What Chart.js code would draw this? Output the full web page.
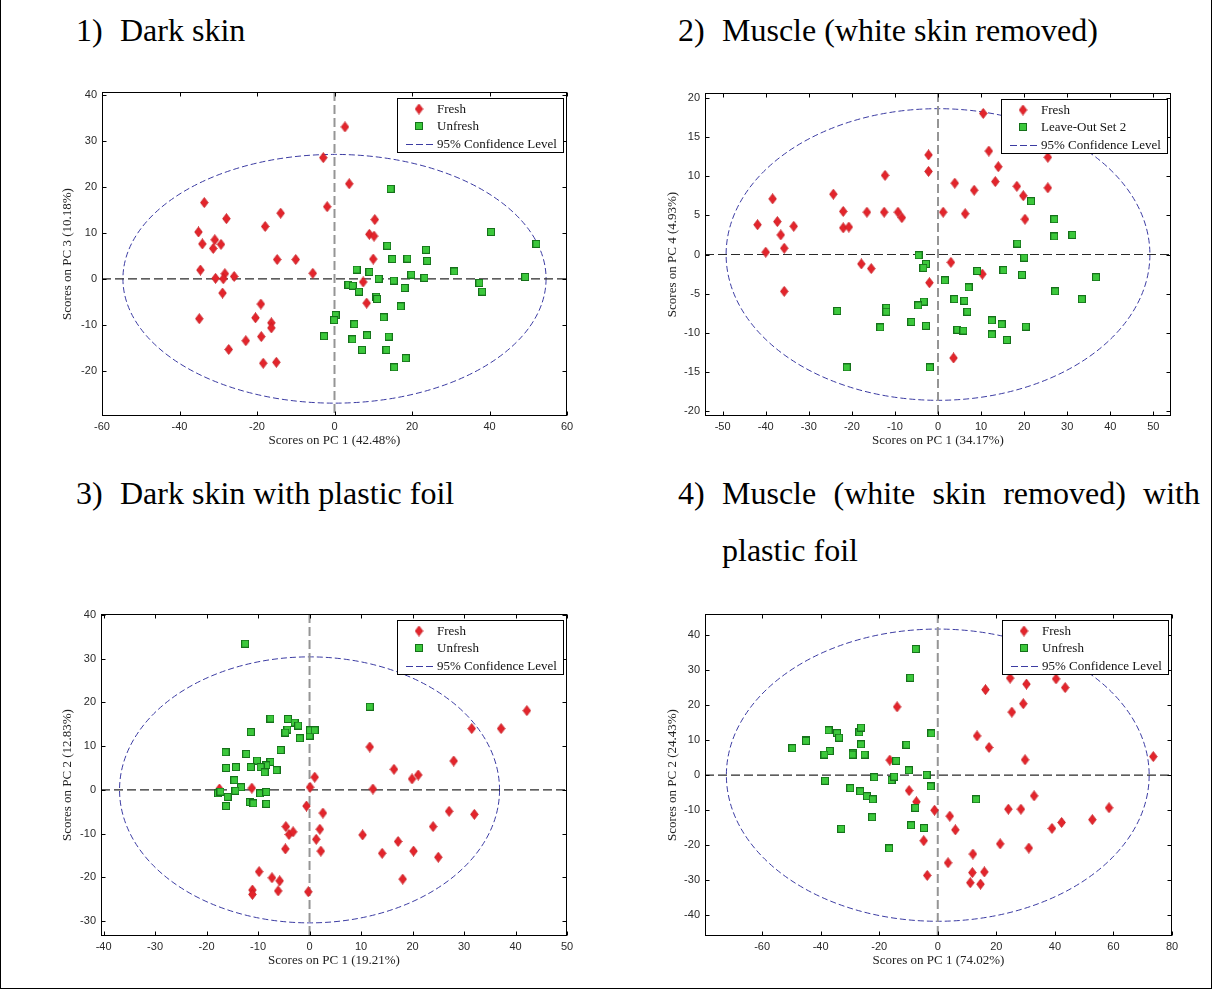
<!DOCTYPE html>
<html>
<head>
<meta charset="utf-8">
<script src="https://cdn.jsdelivr.net/npm/chart.js@4.4.1/dist/chart.umd.min.js"></script>
<style>
  html, body { margin: 0; padding: 0; background: #fff; }
  body { width: 1213px; height: 992px; position: relative; overflow: hidden;
         font-family: 'Liberation Serif', 'Times New Roman', serif; }
  .frame { position: absolute; left: 0; top: -2px; width: 1210px; height: 990px;
           border: 1px solid #000; border-top: none; }
  .h { position: absolute; font-size: 32px; line-height: 32px; white-space: nowrap; color: #000; }
  .just { text-align: justify; text-align-last: justify; white-space: normal; }
  canvas.plot { position: absolute; }
</style>
</head>
<body>
<div class="frame"></div>

<div class="h" style="left:76px; top:14px;">1)</div>
<div class="h" style="left:120px; top:14px;">Dark skin</div>
<div class="h" style="left:678px; top:14px;">2)</div>
<div class="h" style="left:722px; top:14px;">Muscle (white skin removed)</div>

<div class="h" style="left:76px; top:477px;">3)</div>
<div class="h" style="left:120px; top:477px;">Dark skin with plastic foil</div>
<div class="h" style="left:678px; top:477px;">4)</div>
<div class="h just" style="left:722px; top:477px; width:478px;">Muscle (white skin removed) with</div>
<div class="h" style="left:722px; top:534px;">plastic foil</div>

<canvas id="p1" class="plot" width="527" height="376" style="left:60px; top:72px;"></canvas>
<canvas id="p2" class="plot" width="526" height="375" style="left:665px; top:73px;"></canvas>
<canvas id="p3" class="plot" width="527" height="374" style="left:60px; top:594px;"></canvas>
<canvas id="p4" class="plot" width="527" height="374" style="left:665px; top:594px;"></canvas>

<script>
// ---- 1) Dark skin : PC1 vs PC3 scores ----
const darkSkinFresh = [
  [-33.6,16.6],[-35.1,10.2],[-34.1,7.6],[-34.6,1.9],[-34.9,-8.7],[-30.9,8.5],[-31.3,6.6],[-29.3,7.5],
  [-27.9,13.1],[-30.7,0.1],[-28.3,1.1],[-28.7,0.0],[-28.9,-3.1],[-25.9,0.5],[-27.3,-15.4],[-22.9,-13.5],
  [-20.4,-8.5],[-19.0,-5.5],[-18.9,-12.6],[-18.4,-18.4],[-17.9,11.4],[-16.3,-9.6],[-16.3,-10.7],[-15.0,-18.2],
  [-14.8,4.2],[-13.9,14.3],[-10.0,4.2],[-5.6,1.2],[2.7,33.1],[-2.9,26.4],[3.8,20.7],[-1.9,15.7],
  [10.4,12.9],[9.0,9.7],[10.2,9.3],[10.0,4.3],[7.4,-0.7],[8.3,-5.3]
];
const darkSkinUnfresh = [
  [14.5,19.6],[40.4,10.2],[52.1,7.6],[13.6,7.2],[23.6,6.3],[14.9,4.3],[18.8,4.4],[23.9,3.9],
  [5.7,2.0],[9.0,1.5],[11.4,0.0],[15.3,-0.4],[19.8,0.9],[23.2,0.2],[30.9,1.6],[37.4,-0.9],
  [38.1,-2.8],[49.2,0.4],[3.6,-1.3],[4.7,-1.5],[6.3,-2.8],[18.1,-2.0],[10.8,-3.9],[11.0,-4.4],
  [17.1,-6.0],[0.3,-7.9],[-0.1,-9.0],[12.7,-8.4],[5.1,-9.9],[-2.7,-12.5],[4.6,-13.2],[8.4,-12.3],
  [14.0,-12.6],[7.1,-15.5],[13.4,-15.5],[18.4,-17.3],[15.4,-19.3]
];
const darkSkinEllipse = [54.6, 27.1];
const darkSkinXTicks = [-60, -40, -20, 0, 20, 40, 60];
const darkSkinYTicks = [-20, -10, 0, 10, 20, 30, 40];

// ---- 2) Muscle : PC1 vs PC4 scores ----
const muscleFresh = [
  [-41.9,3.8],[-38.4,7.1],[-37.3,4.2],[-40.0,0.3],[-36.5,2.5],[-35.7,0.8],[-35.7,-4.7],[-33.5,3.6],
  [-24.3,7.7],[-22.0,5.5],[-22.0,3.4],[-20.7,3.5],[-17.8,-1.2],[-15.5,-1.8],[-16.5,5.4],[-12.3,10.1],
  [-12.5,5.4],[-9.3,5.4],[-8.4,4.7],[10.5,18.0],[-2.2,12.7],[-2.2,10.6],[11.8,13.2],[14.0,11.2],
  [25.5,12.4],[3.9,9.1],[13.3,9.3],[8.4,8.2],[18.3,8.7],[19.8,7.5],[25.5,8.5],[1.2,5.4],
  [6.3,5.2],[20.2,4.5],[3.0,-1.0],[10.3,-2.5],[-2.0,-3.6],[3.6,-13.2]
];
const muscleLeaveOut = [
  [-4.5,-0.1],[-2.8,-1.2],[-3.4,-1.7],[1.6,-3.3],[7.1,-4.2],[3.8,-5.7],[6.1,-5.9],[6.8,-7.3],
  [-3.3,-6.0],[-4.6,-6.5],[-12.0,-6.8],[-12.0,-7.3],[-13.4,-9.3],[-6.2,-8.6],[-2.8,-9.1],[4.5,-9.6],
  [5.9,-9.7],[12.5,-8.4],[14.8,-8.9],[12.5,-10.2],[16.0,-10.9],[-1.9,-14.4],[9.1,-2.1],[15.2,-2.0],
  [19.5,-2.6],[18.4,1.4],[20.0,-0.4],[20.4,-9.2],[21.6,6.8],[27.0,4.5],[27.0,2.3],[31.2,2.5],
  [36.7,-2.9],[27.2,-4.7],[33.4,-5.7],[-23.4,-7.2],[-21.2,-14.4]
];
const muscleEllipse = [49.2, 18.6];
const muscleXTicks = [-50, -40, -30, -20, -10, 0, 10, 20, 30, 40, 50];
const muscleYTicks = [-20, -15, -10, -5, 0, 5, 10, 15, 20];

// ---- 3) Dark skin with plastic foil : PC1 vs PC2 scores ----
const foilSkinFresh = [
  [1.0,2.9],[0.1,0.6],[-11.2,0.4],[-17.5,0.2],[-0.6,-3.7],[2.6,-5.3],[-4.6,-8.4],[-4.0,-10.2],
  [-3.2,-9.6],[2.0,-9.0],[1.3,-11.3],[2.2,-14.0],[-4.7,-13.5],[-9.8,-18.7],[-7.3,-20.1],[-5.8,-20.8],
  [-6.1,-23.1],[-11.1,-22.9],[-11.1,-23.9],[-0.25,-23.3],[11.7,9.8],[16.4,4.7],[19.9,2.5],[21.1,3.4],
  [12.3,0.2],[28.0,6.6],[31.5,14.0],[37.2,14.0],[42.2,18.1],[27.1,-4.9],[32.0,-5.6],[24.0,-8.4],
  [10.3,-10.3],[17.2,-11.8],[14.1,-14.5],[20.2,-14.0],[25.0,-15.4],[18.1,-20.4]
];
const foilSkinUnfresh = [
  [-12.5,33.4],[-7.6,16.3],[-4.2,16.2],[-2.9,15.4],[-2.2,14.7],[-4.3,13.8],[-4.7,13.1],[-1.9,11.8],
  [-11.4,13.2],[0.0,12.4],[0.1,13.6],[1.0,13.6],[-5.6,9.1],[-16.3,8.6],[-12.3,8.2],[-10.2,6.7],
  [-7.6,6.4],[-8.4,5.6],[-9.5,5.2],[-6.4,4.5],[-8.7,4.0],[-16.2,5.0],[-14.3,5.2],[-11.4,5.2],
  [-14.6,2.2],[-13.3,0.6],[-14.4,-0.2],[-17.8,-0.8],[-17.3,-0.4],[-15.9,-1.6],[-16.2,-3.7],[-11.6,-2.8],
  [-10.9,-3.1],[-9.6,-0.8],[-8.4,-0.5],[-8.4,-3.2],[11.7,19.0]
];
const foilSkinEllipse = [36.9, 30.4];
const foilSkinXTicks = [-40, -30, -20, -10, 0, 10, 20, 30, 40, 50];
const foilSkinYTicks = [-30, -20, -10, 0, 10, 20, 30, 40];

// ---- 4) Muscle with plastic foil : PC1 vs PC2 scores ----
const foilMuscleFresh = [
  [-13.9,19.5],[-16.4,4.3],[-9.8,-4.4],[-7.3,-7.6],[-1.1,-10.0],[4.1,-11.7],[6.0,-15.6],[-4.8,-18.7],
  [-3.6,-28.6],[3.5,-25.0],[12.0,-22.5],[11.8,-27.8],[11.1,-30.7],[13.4,11.2],[24.7,27.7],[30.3,26.0],
  [40.4,27.5],[43.5,25.0],[16.3,24.4],[29.2,20.4],[25.3,18.0],[17.5,7.9],[29.8,4.4],[73.6,5.3],
  [32.9,-5.9],[24.1,-9.7],[28.4,-9.7],[58.5,-9.3],[52.8,-12.7],[42.3,-13.5],[39.0,-15.2],[21.3,-19.6],
  [31.1,-20.8],[15.9,-27.6],[14.6,-31.1]
];
const foilMuscleUnfresh = [
  [-49.7,7.7],[-45.1,10.0],[-45.0,9.8],[-37.3,12.8],[-34.4,12.0],[-33.7,10.7],[-36.9,6.9],[-38.7,5.9],
  [-38.5,-1.6],[-26.8,12.2],[-26.2,13.6],[-26.2,8.8],[-28.9,6.2],[-29.1,5.9],[-25.0,5.9],[-21.7,-0.6],
  [-29.9,-3.7],[-26.5,-4.6],[-24.2,-6.0],[-22.2,-6.9],[-22.4,-12.0],[-33.0,-15.3],[-16.6,-20.9],[-7.5,36.0],
  [-9.4,27.8],[-10.7,8.7],[-14.2,4.1],[-9.9,1.4],[-15.8,-1.4],[-14.9,-0.4],[-7.7,-9.3],[-9.1,-14.3],
  [-2.2,11.9],[-3.8,0.1],[-2.4,-3.2],[-4.7,-15.1],[13.1,-6.9]
];
const foilMuscleEllipse = [72.2, 41.7];
const foilMuscleXTicks = [-60, -40, -20, 0, 20, 40, 60, 80];
const foilMuscleYTicks = [-40, -30, -20, -10, 0, 10, 20, 30, 40];

const SERIF = "'Liberation Serif', 'Times New Roman', serif";
const SANS = "'Liberation Sans', Arial, sans-serif";
const RED = '#e3242b', RED_EDGE = '#c41b21';
const GREEN = '#3cc83c', GREEN_EDGE = '#15701a';
const ELLIPSE_BLUE = '#3b3ba2';

// marker glyphs (MATLAB-style diamond and square)
function diamondGlyph() {
  const c = document.createElement('canvas');
  c.width = 9; c.height = 11;
  const g = c.getContext('2d');
  g.beginPath();
  g.moveTo(4.5, 0.5); g.lineTo(8.3, 5.5); g.lineTo(4.5, 10.5); g.lineTo(0.7, 5.5); g.closePath();
  g.fillStyle = RED; g.fill();
  g.lineWidth = 0.8; g.strokeStyle = RED_EDGE; g.stroke();
  return c;
}
function squareGlyph() {
  const c = document.createElement('canvas');
  c.width = 8; c.height = 8;
  const g = c.getContext('2d');
  g.fillStyle = GREEN; g.fillRect(0.5, 0.5, 7, 7);
  g.lineWidth = 1; g.strokeStyle = GREEN_EDGE; g.strokeRect(0.5, 0.5, 7, 7);
  return c;
}
const DIAMOND = diamondGlyph();
const SQUARE = squareGlyph();

// zero lines, confidence ellipse, boxed axes with inward ticks, in-plot legend
const pcaDecor = {
  id: 'pcaDecor',
  beforeDatasetsDraw(chart, args, o) {
    const { ctx, chartArea: a, scales: { x, y } } = chart;
    const cx = x.getPixelForValue(0), cy = y.getPixelForValue(0);
    const rx = x.getPixelForValue(o.ellipse[0]) - cx;
    const ry = cy - y.getPixelForValue(o.ellipse[1]);
    ctx.save();
    ctx.beginPath(); ctx.rect(a.left, a.top, a.right - a.left, a.bottom - a.top); ctx.clip();

    ctx.setLineDash([6, 3]); ctx.lineWidth = 1; ctx.strokeStyle = ELLIPSE_BLUE;
    ctx.beginPath(); ctx.ellipse(cx, cy, rx, ry, 0, 0, Math.PI * 2); ctx.stroke();

    ctx.setLineDash([9, 4]); ctx.lineWidth = 2; ctx.strokeStyle = '#959595';
    ctx.beginPath(); ctx.moveTo(cx, a.top); ctx.lineTo(cx, a.bottom); ctx.stroke();

    ctx.setLineDash([9, 4]); ctx.lineWidth = 1.2; ctx.strokeStyle = '#2a2a2a';
    ctx.beginPath(); ctx.moveTo(a.left, cy); ctx.lineTo(a.right, cy); ctx.stroke();
    ctx.restore();
  },
  afterDatasetsDraw(chart, args, o) {
    const { ctx, chartArea: a, scales: { x, y } } = chart;
    ctx.save();
    ctx.setLineDash([]);
    ctx.strokeStyle = '#000'; ctx.lineWidth = 1;
    const L = Math.round(a.left) + 0.5, R = Math.round(a.right) - 0.5;
    const T = Math.round(a.top) + 0.5, B = Math.round(a.bottom) - 0.5;
    ctx.strokeRect(L, T, R - L, B - T);
    const tl = 4;
    ctx.beginPath();
    x.ticks.forEach(t => {
      const px = Math.round(x.getPixelForValue(t.value)) + 0.5;
      ctx.moveTo(px, B); ctx.lineTo(px, B - tl);
      ctx.moveTo(px, T); ctx.lineTo(px, T + tl);
    });
    y.ticks.forEach(t => {
      const py = Math.round(y.getPixelForValue(t.value)) + 0.5;
      ctx.moveTo(L, py); ctx.lineTo(L + tl, py);
      ctx.moveTo(R, py); ctx.lineTo(R - tl, py);
    });
    ctx.stroke();

    // legend box
    ctx.font = '13px ' + SERIF;
    const labels = [o.names[0], o.names[1], '95% Confidence Level'];
    const tw = Math.max(...labels.map(s => ctx.measureText(s).width));
    const w = Math.round(40 + tw + 6), h = 54;
    const bx = Math.round(a.right) - 4 - w, by = Math.round(a.top) + 6;
    ctx.fillStyle = '#fff';
    ctx.fillRect(bx, by, w, h);
    ctx.strokeRect(bx + 0.5, by + 0.5, w, h);
    const rows = [by + 11, by + 28, by + 46];
    ctx.drawImage(DIAMOND, bx + 22 - DIAMOND.width / 2, rows[0] - DIAMOND.height / 2);
    ctx.drawImage(SQUARE, bx + 22 - SQUARE.width / 2, rows[1] - SQUARE.height / 2);
    ctx.setLineDash([7, 3]); ctx.strokeStyle = ELLIPSE_BLUE; ctx.lineWidth = 1;
    ctx.beginPath(); ctx.moveTo(bx + 9, rows[2] + 0.5); ctx.lineTo(bx + 39, rows[2] + 0.5); ctx.stroke();
    ctx.fillStyle = '#111'; ctx.textBaseline = 'middle'; ctx.textAlign = 'left';
    labels.forEach((s, i) => ctx.fillText(s, bx + 40, rows[i] + 1));
    ctx.restore();
  }
};

function scorePlot(id, p) {
  const toPts = arr => arr.map(([vx, vy]) => ({ x: vx, y: vy }));
  return new Chart(document.getElementById(id), {
    type: 'scatter',
    data: {
      datasets: [
        { label: p.names[0], data: toPts(p.fresh), pointStyle: DIAMOND, pointRadius: 4, order: 2 },
        { label: p.names[1], data: toPts(p.other), pointStyle: SQUARE, pointRadius: 4, order: 1 }
      ]
    },
    plugins: [pcaDecor],
    options: {
      responsive: false, maintainAspectRatio: false, animation: false, events: [],
      layout: { padding: { top: 20, right: 20, left: 0, bottom: 0 } },
      plugins: {
        legend: { display: false }, tooltip: { enabled: false },
        pcaDecor: { ellipse: p.ellipse, names: p.names }
      },
      scales: {
        x: {
          type: 'linear', min: p.xRange[0], max: p.xRange[1],
          afterBuildTicks: s => { s.ticks = p.xTicks.map(v => ({ value: v })); },
          afterFit: s => { s.height = 32; },
          grid: { display: false, drawTicks: false, tickLength: 0 },
          border: { display: false },
          ticks: { font: { family: SANS, size: 11 }, color: '#2a2a2a', padding: 4,
                   maxRotation: 0, autoSkip: false, callback: v => String(v) },
          title: { display: true, text: p.xTitle, font: { family: SERIF, size: 13 },
                   color: '#222', padding: 0 }
        },
        y: {
          type: 'linear', min: p.yRange[0], max: p.yRange[1],
          afterBuildTicks: s => { s.ticks = p.yTicks.map(v => ({ value: v })); },
          afterFit: s => { s.width = p.yAxisW; },
          grid: { display: false, drawTicks: false, tickLength: 0 },
          border: { display: false },
          ticks: { font: { family: SANS, size: 11 }, color: '#2a2a2a', padding: 5,
                   autoSkip: false, callback: v => String(v) },
          title: { display: true, text: p.yTitle, font: { family: SERIF, size: 13 },
                   color: '#222', padding: 0 }
        }
      }
    }
  });
}

scorePlot('p1', {
  fresh: darkSkinFresh, other: darkSkinUnfresh, names: ['Fresh', 'Unfresh'],
  ellipse: darkSkinEllipse, xTicks: darkSkinXTicks, yTicks: darkSkinYTicks,
  xRange: [-60, 60], yRange: [-29.9, 40.7], yAxisW: 42,
  xTitle: 'Scores on PC 1 (42.48%)', yTitle: 'Scores on PC 3 (10.18%)'
});
scorePlot('p2', {
  fresh: muscleFresh, other: muscleLeaveOut, names: ['Fresh', 'Leave-Out Set 2'],
  ellipse: muscleEllipse, xTicks: muscleXTicks, yTicks: muscleYTicks,
  xRange: [-54.1, 54.1], yRange: [-20.6, 20.6], yAxisW: 40,
  xTitle: 'Scores on PC 1 (34.17%)', yTitle: 'Scores on PC 4 (4.93%)'
});
scorePlot('p3', {
  fresh: foilSkinFresh, other: foilSkinUnfresh, names: ['Fresh', 'Unfresh'],
  ellipse: foilSkinEllipse, xTicks: foilSkinXTicks, yTicks: foilSkinYTicks,
  xRange: [-40.5, 50], yRange: [-33.4, 40.2], yAxisW: 41,
  xTitle: 'Scores on PC 1 (19.21%)', yTitle: 'Scores on PC 2 (12.83%)'
});
scorePlot('p4', {
  fresh: foilMuscleFresh, other: foilMuscleUnfresh, names: ['Fresh', 'Unfresh'],
  ellipse: foilMuscleEllipse, xTicks: foilMuscleXTicks, yTicks: foilMuscleYTicks,
  xRange: [-79.5, 80], yRange: [-45.9, 46], yAxisW: 40,
  xTitle: 'Scores on PC 1 (74.02%)', yTitle: 'Scores on PC 2 (24.43%)'
});
</script>
</body>
</html>
